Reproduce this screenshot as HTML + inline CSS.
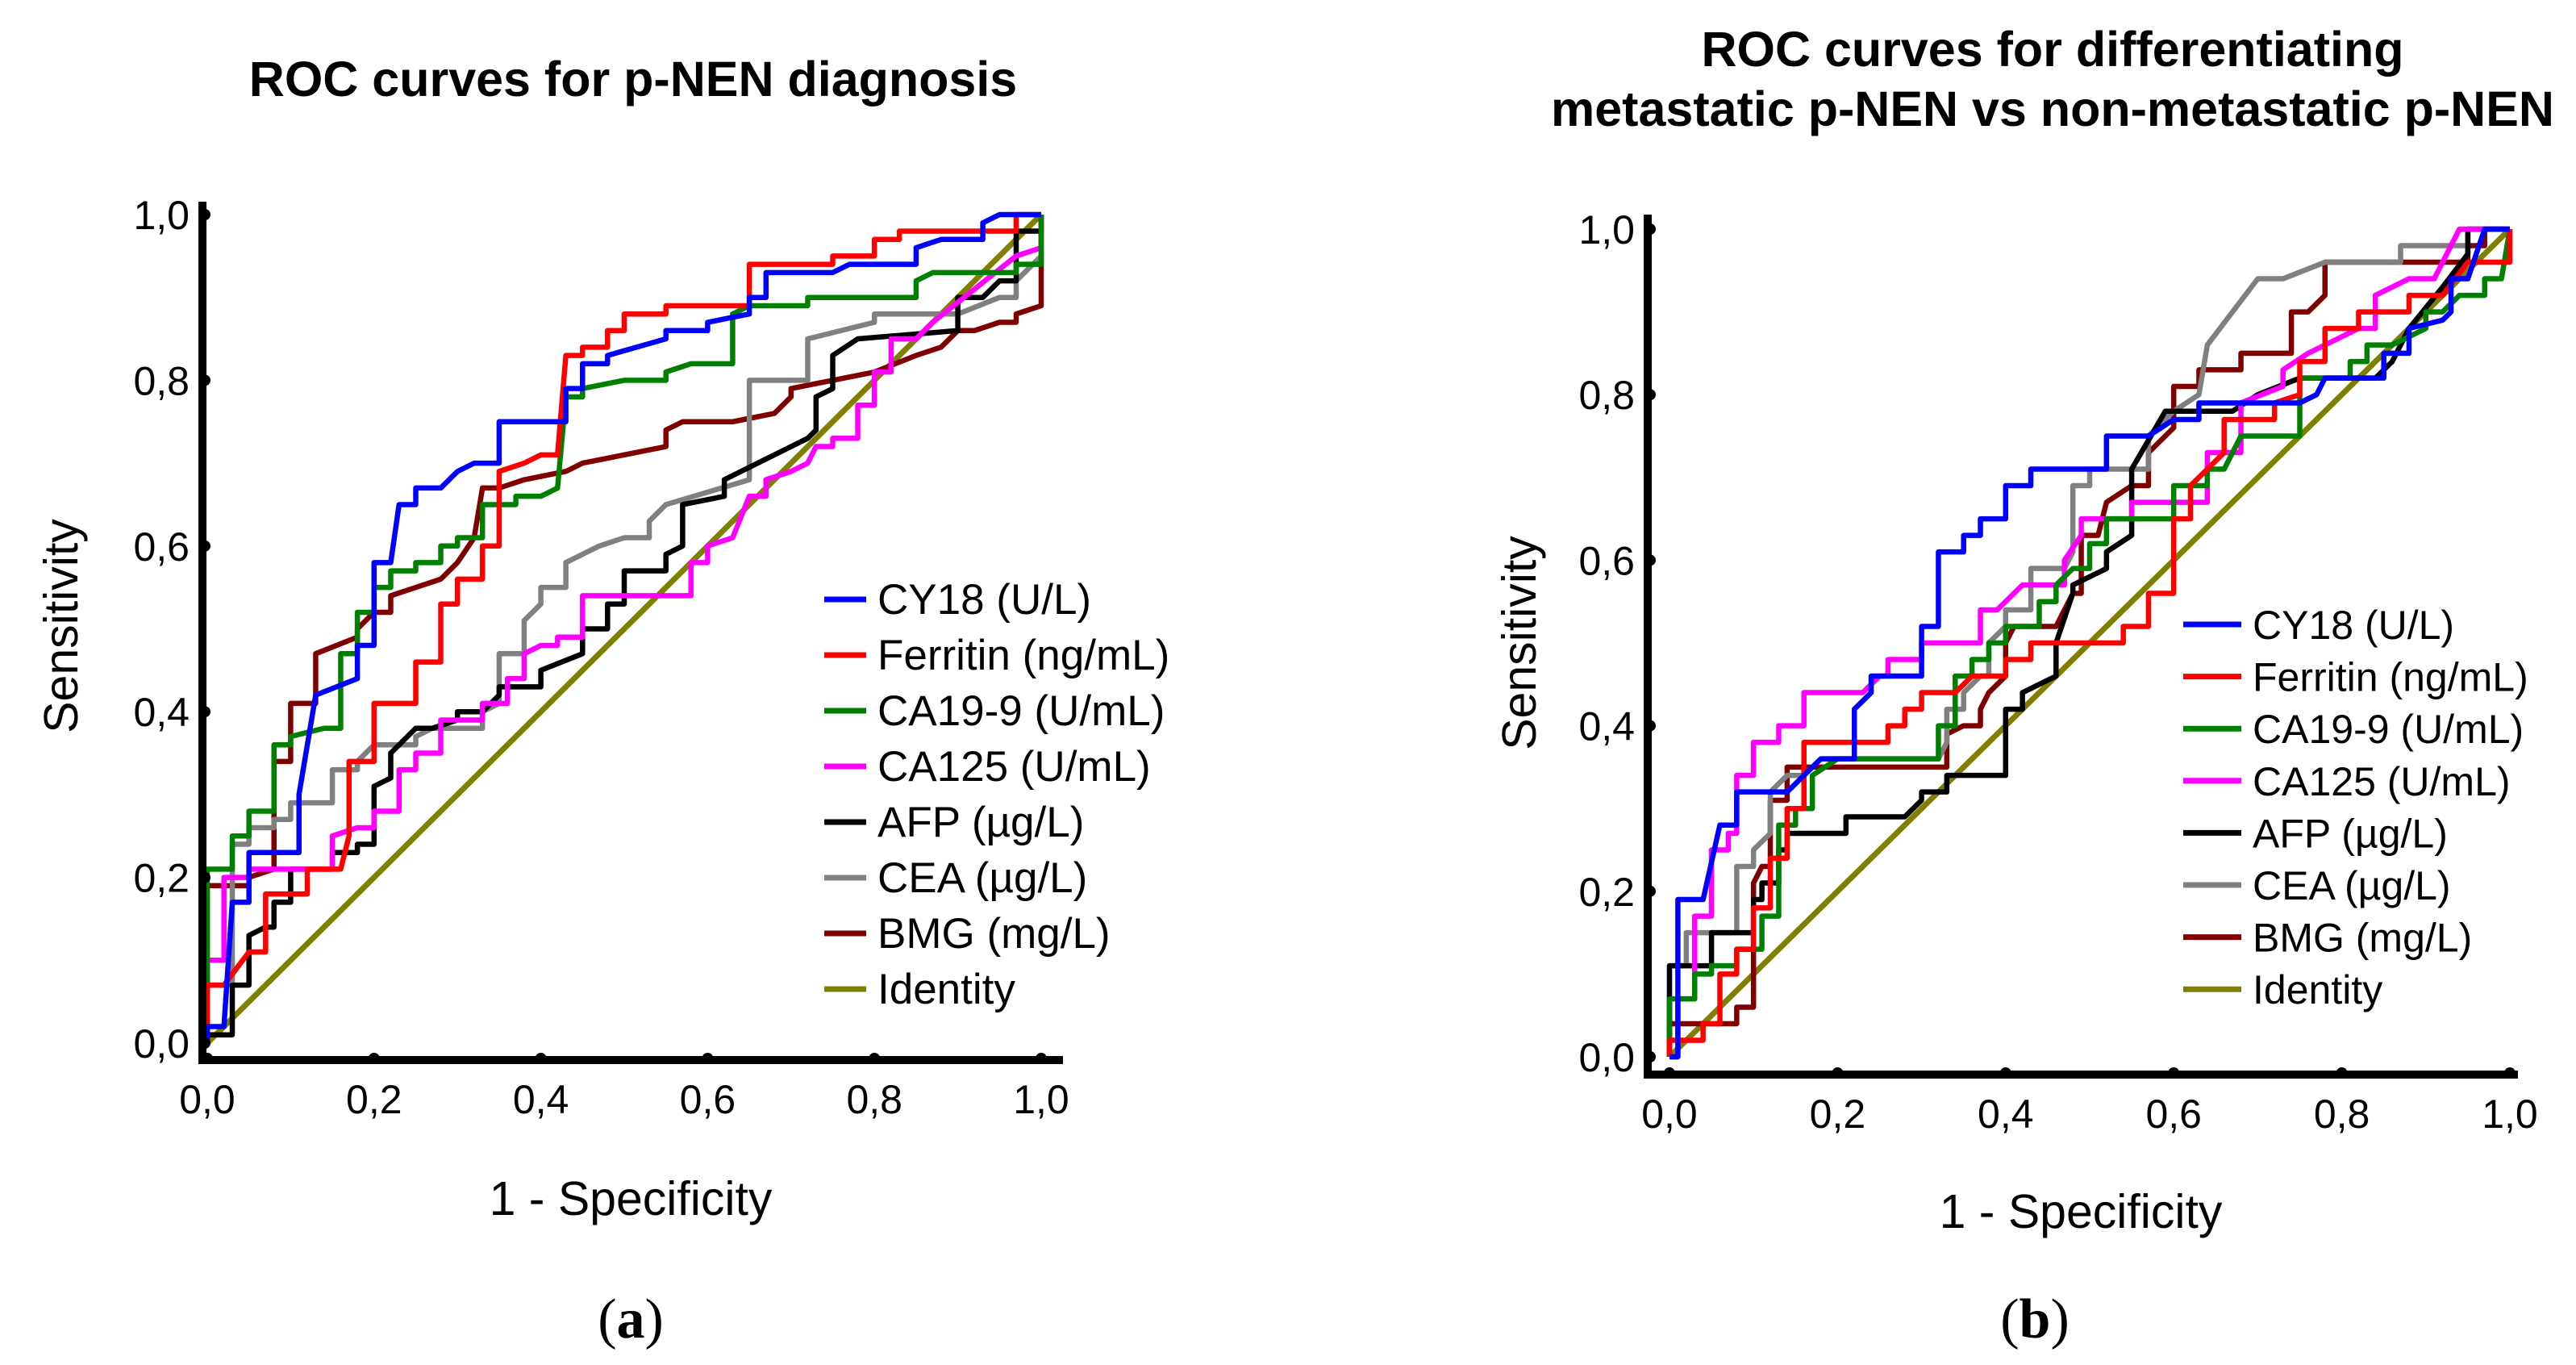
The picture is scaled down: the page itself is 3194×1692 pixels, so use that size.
<!DOCTYPE html>
<html><head><meta charset="utf-8"><style>
html,body{margin:0;padding:0;background:#fff}
svg{display:block}
text{font-family:"Liberation Sans",sans-serif}
</style></head><body>
<svg id="fig" width="3194" height="1692" viewBox="0 0 3194 1692" xmlns="http://www.w3.org/2000/svg">
<rect width="3194" height="1692" fill="#fff"/>
<text x="785" y="119" text-anchor="middle" font-size="61" font-weight="bold">ROC curves for p-NEN diagnosis</text>
<text x="2545" y="82" text-anchor="middle" font-size="61" font-weight="bold">ROC curves for differentiating</text>
<text x="2545" y="156" text-anchor="middle" font-size="61" font-weight="bold">metastatic p-NEN vs non-metastatic p-NEN</text>
<text x="782" y="1506" text-anchor="middle" font-size="59">1 - Specificity</text>
<text x="2580" y="1522" text-anchor="middle" font-size="59">1 - Specificity</text>
<text transform="translate(96,776) rotate(-90)" text-anchor="middle" font-size="59">Sensitivity</text>
<text transform="translate(1904,797) rotate(-90)" text-anchor="middle" font-size="59">Sensitivity</text>
<text x="782" y="1658" text-anchor="middle" font-size="70" style="font-family:'Liberation Serif',serif">(<tspan font-weight="bold">a</tspan>)</text>
<text x="2523" y="1658" text-anchor="middle" font-size="70" style="font-family:'Liberation Serif',serif">(<tspan font-weight="bold">b</tspan>)</text>
<g id="plots"></g>
</svg>
<script>
const names = ["CY18 (U/L)","Ferritin (ng/mL)","CA19-9 (U/mL)","CA125 (U/mL)","AFP (µg/L)","CEA (µg/L)","BMG (mg/L)"];
const namesB = ["CY18 (U/L)","Ferritin (ng/mL)","CA19-9 (U/mL)","CA125 (U/mL)","AFP (µg/L)","CEA (µg/L)","BMG (mg/L)"];
const colors = ["#0000ff","#ff0000","#008000","#ff00ff","#000000","#808080","#800000"];
const ticks = [0,0.2,0.4,0.6,0.8,1.0];
const tickLabels = ["0,0","0,2","0,4","0,6","0,8","1,0"];

const a_cy18=[[0,0],[0,0.02],[0.02,0.02],[0.03,0.17],[0.05,0.17],[0.05,0.23],[0.11,0.23],[0.11,0.3],[0.13,0.42],[0.18,0.44],[0.18,0.48],[0.2,0.48],[0.2,0.58],[0.22,0.58],[0.23,0.65],[0.25,0.65],[0.25,0.67],[0.28,0.67],[0.3,0.69],[0.32,0.7],[0.35,0.7],[0.35,0.75],[0.43,0.75],[0.43,0.79],[0.45,0.79],[0.45,0.82],[0.48,0.82],[0.48,0.83],[0.55,0.85],[0.55,0.86],[0.6,0.86],[0.6,0.87],[0.65,0.88],[0.65,0.9],[0.67,0.9],[0.67,0.93],[0.75,0.93],[0.77,0.94],[0.85,0.94],[0.85,0.96],[0.88,0.97],[0.93,0.97],[0.93,0.99],[0.95,1],[1,1]];
const a_ferritin=[[0,0],[0,0.07],[0.02,0.07],[0.05,0.11],[0.07,0.11],[0.07,0.18],[0.12,0.18],[0.12,0.21],[0.16,0.21],[0.17,0.25],[0.17,0.34],[0.2,0.34],[0.2,0.41],[0.25,0.41],[0.25,0.46],[0.28,0.46],[0.28,0.53],[0.3,0.53],[0.3,0.56],[0.33,0.56],[0.33,0.6],[0.35,0.6],[0.35,0.69],[0.38,0.7],[0.4,0.71],[0.42,0.71],[0.43,0.83],[0.45,0.83],[0.45,0.84],[0.48,0.84],[0.48,0.86],[0.5,0.86],[0.5,0.88],[0.55,0.88],[0.55,0.89],[0.65,0.89],[0.65,0.94],[0.75,0.94],[0.75,0.95],[0.8,0.95],[0.8,0.97],[0.83,0.97],[0.83,0.98],[0.97,0.98],[0.97,1],[1,1]];
const a_ca199=[[0,0],[0,0.21],[0.03,0.21],[0.03,0.25],[0.05,0.25],[0.05,0.28],[0.08,0.28],[0.08,0.36],[0.1,0.36],[0.1,0.37],[0.14,0.38],[0.16,0.38],[0.16,0.47],[0.18,0.47],[0.18,0.52],[0.2,0.52],[0.2,0.55],[0.22,0.55],[0.22,0.57],[0.25,0.57],[0.25,0.58],[0.28,0.58],[0.28,0.6],[0.3,0.6],[0.3,0.61],[0.33,0.61],[0.33,0.65],[0.37,0.65],[0.37,0.66],[0.4,0.66],[0.42,0.67],[0.43,0.78],[0.45,0.78],[0.45,0.79],[0.5,0.8],[0.55,0.8],[0.55,0.81],[0.58,0.82],[0.63,0.82],[0.63,0.88],[0.65,0.89],[0.72,0.89],[0.72,0.9],[0.85,0.9],[0.85,0.92],[0.87,0.93],[0.97,0.93],[0.97,0.94],[1,0.94],[1,1]];
const a_ca125=[[0,0],[0,0.1],[0.02,0.1],[0.02,0.2],[0.05,0.2],[0.05,0.21],[0.15,0.21],[0.15,0.25],[0.18,0.26],[0.2,0.26],[0.2,0.28],[0.23,0.28],[0.23,0.33],[0.25,0.33],[0.25,0.35],[0.28,0.35],[0.28,0.39],[0.33,0.39],[0.33,0.41],[0.36,0.41],[0.36,0.44],[0.38,0.44],[0.38,0.47],[0.4,0.48],[0.42,0.48],[0.42,0.49],[0.45,0.49],[0.45,0.54],[0.58,0.54],[0.58,0.58],[0.6,0.58],[0.6,0.6],[0.63,0.61],[0.65,0.66],[0.67,0.66],[0.67,0.68],[0.7,0.69],[0.72,0.7],[0.73,0.72],[0.75,0.72],[0.75,0.73],[0.78,0.73],[0.78,0.77],[0.8,0.77],[0.8,0.81],[0.82,0.81],[0.82,0.85],[0.85,0.85],[0.87,0.87],[0.92,0.91],[0.97,0.95],[1,0.96],[1,1]];
const a_afp=[[0,0],[0,0.01],[0.03,0.01],[0.03,0.07],[0.05,0.07],[0.05,0.13],[0.07,0.14],[0.08,0.14],[0.08,0.17],[0.1,0.17],[0.1,0.21],[0.15,0.21],[0.15,0.23],[0.18,0.23],[0.18,0.24],[0.2,0.24],[0.2,0.31],[0.22,0.32],[0.22,0.35],[0.25,0.38],[0.27,0.38],[0.3,0.39],[0.3,0.4],[0.33,0.4],[0.35,0.42],[0.35,0.43],[0.4,0.43],[0.4,0.45],[0.45,0.47],[0.45,0.5],[0.48,0.5],[0.48,0.53],[0.5,0.53],[0.5,0.57],[0.55,0.57],[0.55,0.59],[0.57,0.6],[0.57,0.65],[0.62,0.66],[0.62,0.68],[0.72,0.73],[0.73,0.74],[0.73,0.78],[0.75,0.79],[0.75,0.83],[0.78,0.85],[0.9,0.86],[0.9,0.9],[0.93,0.9],[0.95,0.92],[0.97,0.92],[0.97,0.98],[1,0.98],[1,1]];
const a_cea=[[0,0],[0,0.07],[0.03,0.07],[0.03,0.24],[0.05,0.24],[0.05,0.26],[0.08,0.26],[0.08,0.27],[0.1,0.27],[0.1,0.29],[0.15,0.29],[0.15,0.33],[0.18,0.33],[0.18,0.34],[0.2,0.36],[0.25,0.36],[0.25,0.37],[0.27,0.38],[0.33,0.38],[0.33,0.4],[0.35,0.41],[0.35,0.47],[0.38,0.47],[0.38,0.51],[0.4,0.53],[0.4,0.55],[0.43,0.55],[0.43,0.58],[0.45,0.59],[0.47,0.6],[0.5,0.61],[0.53,0.61],[0.53,0.63],[0.55,0.65],[0.65,0.68],[0.65,0.8],[0.72,0.8],[0.72,0.85],[0.8,0.87],[0.8,0.88],[0.9,0.88],[0.95,0.9],[0.97,0.9],[0.97,0.92],[1,0.95],[1,1]];
const a_bmg=[[0,0],[0,0.19],[0.05,0.19],[0.05,0.2],[0.08,0.21],[0.08,0.34],[0.1,0.34],[0.1,0.41],[0.13,0.41],[0.13,0.47],[0.18,0.49],[0.18,0.5],[0.2,0.52],[0.22,0.52],[0.22,0.54],[0.25,0.55],[0.28,0.56],[0.3,0.58],[0.32,0.61],[0.33,0.67],[0.35,0.67],[0.38,0.68],[0.43,0.69],[0.45,0.7],[0.55,0.72],[0.55,0.74],[0.57,0.75],[0.63,0.75],[0.68,0.76],[0.7,0.78],[0.7,0.79],[0.75,0.8],[0.8,0.81],[0.85,0.83],[0.88,0.84],[0.9,0.86],[0.92,0.86],[0.95,0.87],[0.97,0.87],[0.97,0.88],[1,0.89],[1,1]];

const b_cy18=[[0,0],[0.01,0],[0.01,0.19],[0.04,0.19],[0.06,0.28],[0.08,0.28],[0.08,0.32],[0.14,0.32],[0.16,0.34],[0.18,0.36],[0.22,0.36],[0.22,0.42],[0.24,0.44],[0.24,0.46],[0.3,0.46],[0.3,0.52],[0.32,0.52],[0.32,0.61],[0.35,0.61],[0.35,0.63],[0.37,0.63],[0.37,0.65],[0.4,0.65],[0.4,0.69],[0.43,0.69],[0.43,0.71],[0.52,0.71],[0.52,0.75],[0.57,0.75],[0.6,0.77],[0.63,0.77],[0.63,0.79],[0.75,0.79],[0.77,0.8],[0.78,0.82],[0.85,0.82],[0.85,0.85],[0.88,0.85],[0.88,0.88],[0.92,0.89],[0.93,0.9],[0.93,0.94],[0.95,0.94],[0.97,1],[1,1]];
const b_ferritin=[[0,0],[0,0.02],[0.04,0.02],[0.04,0.04],[0.06,0.04],[0.06,0.1],[0.08,0.1],[0.08,0.13],[0.1,0.13],[0.1,0.18],[0.12,0.18],[0.12,0.24],[0.14,0.24],[0.14,0.3],[0.16,0.3],[0.16,0.38],[0.26,0.38],[0.26,0.4],[0.28,0.4],[0.28,0.42],[0.3,0.42],[0.3,0.44],[0.34,0.44],[0.36,0.46],[0.4,0.46],[0.4,0.48],[0.43,0.48],[0.43,0.5],[0.54,0.5],[0.54,0.52],[0.57,0.52],[0.57,0.56],[0.6,0.56],[0.6,0.65],[0.62,0.65],[0.62,0.69],[0.66,0.73],[0.66,0.77],[0.72,0.77],[0.72,0.79],[0.75,0.8],[0.75,0.84],[0.78,0.84],[0.78,0.88],[0.82,0.88],[0.82,0.9],[0.88,0.9],[0.88,0.92],[0.92,0.92],[0.95,0.96],[1,0.96],[1,1]];
const b_ca199=[[0,0],[0,0.07],[0.03,0.07],[0.03,0.1],[0.05,0.1],[0.05,0.11],[0.08,0.11],[0.08,0.13],[0.11,0.13],[0.11,0.17],[0.13,0.17],[0.13,0.28],[0.15,0.28],[0.15,0.3],[0.17,0.3],[0.17,0.34],[0.2,0.36],[0.32,0.36],[0.32,0.4],[0.34,0.4],[0.34,0.46],[0.36,0.46],[0.36,0.48],[0.38,0.48],[0.38,0.5],[0.4,0.5],[0.4,0.52],[0.44,0.52],[0.44,0.55],[0.46,0.55],[0.46,0.57],[0.48,0.59],[0.5,0.59],[0.5,0.62],[0.52,0.62],[0.52,0.65],[0.6,0.65],[0.6,0.69],[0.64,0.69],[0.64,0.71],[0.66,0.71],[0.68,0.75],[0.75,0.75],[0.75,0.82],[0.81,0.82],[0.81,0.84],[0.83,0.84],[0.83,0.86],[0.86,0.86],[0.9,0.88],[0.9,0.9],[0.92,0.9],[0.94,0.92],[0.97,0.92],[0.97,0.94],[0.99,0.94],[1,1]];
const b_ca125=[[0,0],[0.01,0],[0.01,0.07],[0.03,0.07],[0.03,0.17],[0.05,0.17],[0.05,0.25],[0.07,0.25],[0.07,0.27],[0.08,0.27],[0.08,0.34],[0.1,0.34],[0.1,0.38],[0.13,0.38],[0.13,0.4],[0.16,0.4],[0.16,0.44],[0.23,0.44],[0.25,0.46],[0.26,0.46],[0.26,0.48],[0.3,0.48],[0.3,0.5],[0.37,0.5],[0.37,0.54],[0.39,0.54],[0.42,0.57],[0.47,0.57],[0.47,0.6],[0.49,0.63],[0.49,0.65],[0.55,0.65],[0.55,0.67],[0.64,0.67],[0.64,0.73],[0.68,0.73],[0.68,0.79],[0.73,0.81],[0.73,0.83],[0.76,0.85],[0.78,0.86],[0.82,0.88],[0.84,0.88],[0.84,0.92],[0.88,0.94],[0.91,0.94],[0.93,0.98],[0.94,1],[1,1]];
const b_afp=[[0,0],[0,0.11],[0.05,0.11],[0.05,0.15],[0.1,0.15],[0.1,0.19],[0.11,0.19],[0.11,0.21],[0.13,0.21],[0.13,0.25],[0.14,0.25],[0.14,0.27],[0.21,0.27],[0.21,0.29],[0.28,0.29],[0.3,0.31],[0.3,0.32],[0.33,0.32],[0.33,0.34],[0.4,0.34],[0.4,0.42],[0.42,0.42],[0.42,0.44],[0.46,0.46],[0.46,0.5],[0.48,0.56],[0.48,0.57],[0.52,0.59],[0.52,0.61],[0.55,0.63],[0.55,0.71],[0.59,0.78],[0.67,0.78],[0.7,0.8],[0.75,0.82],[0.84,0.82],[0.86,0.84],[0.88,0.88],[0.92,0.93],[0.95,0.97],[0.95,1],[1,1]];
const b_cea=[[0,0],[0,0.11],[0.02,0.11],[0.02,0.15],[0.08,0.15],[0.08,0.23],[0.1,0.23],[0.1,0.25],[0.12,0.27],[0.12,0.32],[0.14,0.34],[0.16,0.34],[0.18,0.36],[0.32,0.36],[0.33,0.38],[0.33,0.42],[0.35,0.42],[0.35,0.44],[0.37,0.46],[0.38,0.46],[0.38,0.5],[0.4,0.52],[0.4,0.54],[0.43,0.54],[0.43,0.59],[0.47,0.59],[0.48,0.61],[0.48,0.69],[0.5,0.69],[0.5,0.71],[0.57,0.71],[0.57,0.75],[0.6,0.78],[0.63,0.8],[0.64,0.86],[0.7,0.94],[0.73,0.94],[0.78,0.96],[0.87,0.96],[0.87,0.98],[0.95,0.98],[0.95,1],[1,1]];
const b_bmg=[[0,0],[0,0.04],[0.08,0.04],[0.08,0.06],[0.1,0.06],[0.1,0.21],[0.11,0.23],[0.12,0.23],[0.12,0.31],[0.14,0.31],[0.14,0.35],[0.33,0.35],[0.33,0.39],[0.35,0.4],[0.37,0.4],[0.37,0.42],[0.38,0.44],[0.4,0.46],[0.4,0.5],[0.41,0.52],[0.46,0.52],[0.47,0.54],[0.48,0.56],[0.49,0.56],[0.49,0.63],[0.51,0.63],[0.52,0.67],[0.55,0.69],[0.57,0.69],[0.57,0.73],[0.6,0.76],[0.6,0.81],[0.63,0.81],[0.63,0.83],[0.68,0.83],[0.68,0.85],[0.74,0.85],[0.74,0.9],[0.76,0.9],[0.78,0.92],[0.78,0.96],[0.95,0.96],[0.95,0.98],[0.97,0.98],[0.97,1],[1,1]];

const seriesA=[a_cy18,a_ferritin,a_ca199,a_ca125,a_afp,a_cea,a_bmg];
const seriesB=[b_cy18,b_ferritin,b_ca199,b_ca125,b_afp,b_cea,b_bmg];

const NS="http://www.w3.org/2000/svg";
const root=document.getElementById('plots');
function mk(tag,attrs,parent){const e=document.createElementNS(NS,tag);for(const k in attrs)e.setAttribute(k,attrs[k]);parent.appendChild(e);return e;}

function drawPanel(id,cfg,series,labels){
  const g=mk('g',{},root);
  
  
  const sx=v=>cfg.x0+v*(cfg.x1-cfg.x0);
  const sy=v=>cfg.y0+v*(cfg.y1-cfg.y0);
  const idl=mk('line',{x1:sx(0),y1:sy(0),x2:sx(1),y2:sy(1),stroke:'#808000','stroke-width':7},g);
  
  
  for(let i=series.length-1;i>=0;i--){
    const p=mk('polyline',{points:series[i].map(d=>sx(d[0])+','+sy(d[1])).join(' '),fill:'none',stroke:colors[i],'stroke-width':6.5,'stroke-linejoin':'round'},g);
    
    
  }
  const ya=mk('line',{x1:cfg.ax,y1:cfg.atop,x2:cfg.ax,y2:cfg.ay+5,stroke:'#000','stroke-width':10},g);
  
  
  const xa=mk('line',{x1:cfg.ax-5,y1:cfg.ay,x2:cfg.aright,y2:cfg.ay,stroke:'#000','stroke-width':10},g);
  
  
  ticks.forEach((t,k)=>{
    mk('circle',{cx:cfg.ax+3,cy:sy(t),r:7,fill:'#000'},g);
    mk('circle',{cx:sx(t),cy:cfg.ay-2,r:7,fill:'#000'},g);
    const yl=mk('text',{x:cfg.ax-16,y:sy(t)+18,'text-anchor':'end','font-size':50},g);
    yl.textContent=tickLabels[k];
    
    
    const xl=mk('text',{x:sx(t),y:cfg.xly,'text-anchor':'middle','font-size':50},g);
    xl.textContent=tickLabels[k];
    
    
  });
  const allNames=labels.concat(['Identity']);
  const allCols=colors.concat(['#808000']);
  allNames.forEach((n,i)=>{
    const y=cfg.ly+i*cfg.lstep;
    const le=mk('g',{},g);
    
    
    mk('line',{x1:cfg.lx,y1:y,x2:cfg.lx+cfg.llen,y2:y,stroke:allCols[i],'stroke-width':7},le);
    const t=mk('text',{x:cfg.lx+cfg.llen+14,y:y+18,'font-size':cfg.lfs},le);
    t.textContent=n;
  });
}
drawPanel('a',{x0:257,x1:1291,y0:1293,y1:266,ax:251,atop:250,ay:1314,aright:1318,xly:1380,lx:1022,llen:52,ly:743,lstep:69,lfs:53},seriesA,names);
drawPanel('b',{x0:2070,x1:3112,y0:1310,y1:284,ax:2043,atop:266,ay:1332,aright:3122,xly:1398,lx:2707,llen:72,ly:774,lstep:64.6,lfs:50},seriesB,namesB);
</script>
</body></html>
